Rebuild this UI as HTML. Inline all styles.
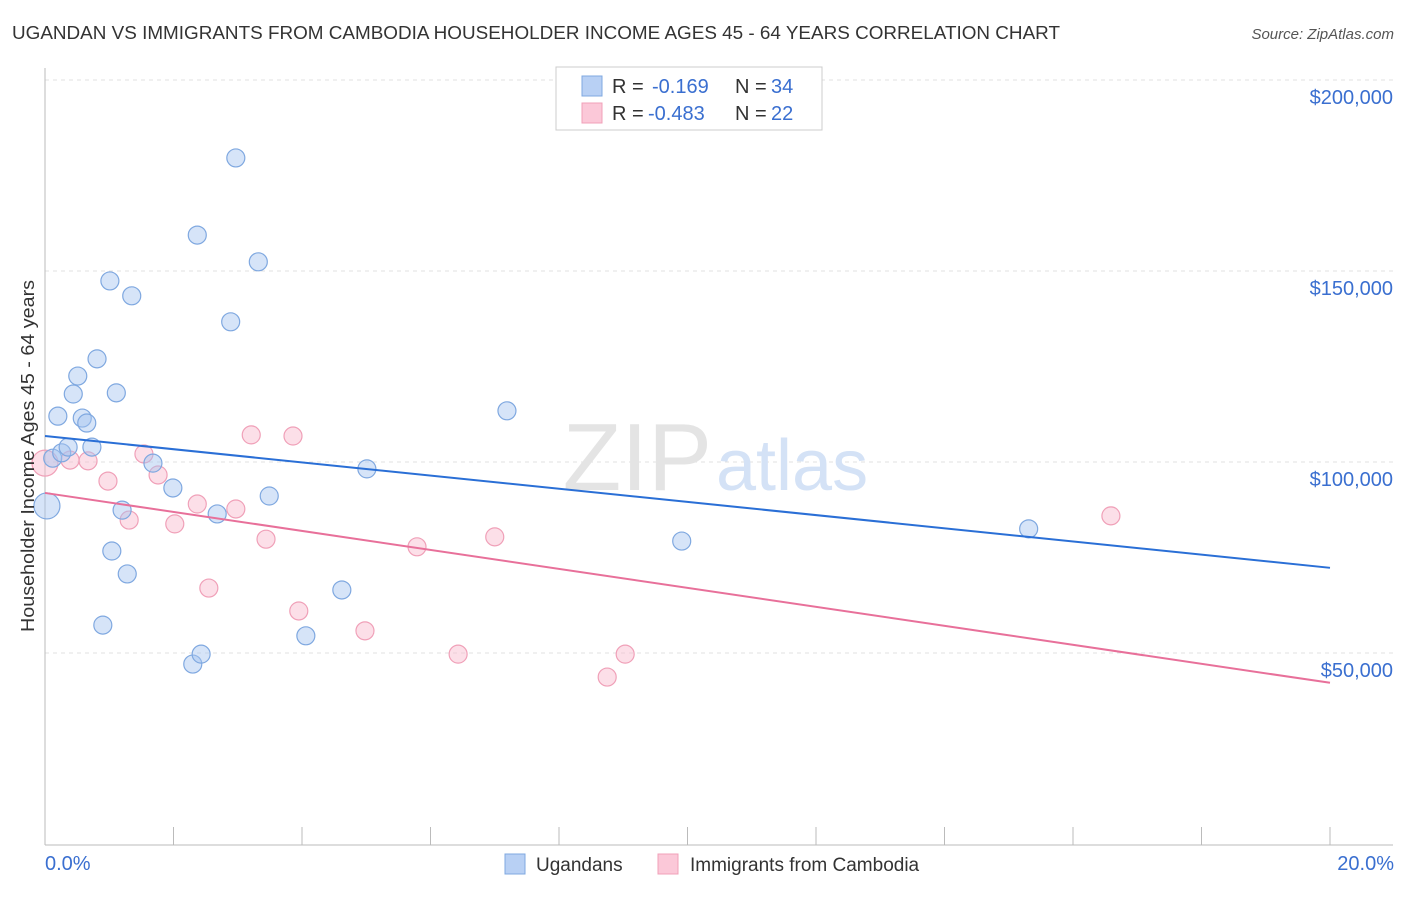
<!DOCTYPE html>
<html><head><meta charset="utf-8"><style>
body{margin:0;background:#fff;font-family:"Liberation Sans",sans-serif;}
svg text{font-family:"Liberation Sans",sans-serif;}
</style></head><body>
<svg width="1406" height="892" viewBox="0 0 1406 892">
<text x="12" y="39" font-size="18" fill="#333" textLength="1048" lengthAdjust="spacingAndGlyphs">UGANDAN VS IMMIGRANTS FROM CAMBODIA HOUSEHOLDER INCOME AGES 45 - 64 YEARS CORRELATION CHART</text>
<text x="1394" y="39" font-size="15" fill="#555" text-anchor="end" font-style="italic">Source: ZipAtlas.com</text>
<g id="grid"></g>
<text x="712" y="490" font-size="96" fill="#e4e4e4" text-anchor="end" font-family="Liberation Serif">ZIP</text>
<text x="716" y="490" font-size="72" fill="#d4e2f6">atlas</text>
<g id="marks"></g>
<text transform="translate(34,456) rotate(-90)" font-size="18" fill="#333" text-anchor="middle" textLength="352" lengthAdjust="spacingAndGlyphs">Householder Income Ages 45 - 64 years</text>
<text x="45" y="870" font-size="20" fill="#3a6fd0">0.0%</text>
<text x="1394" y="870" font-size="20" fill="#3a6fd0" text-anchor="end">20.0%</text>
<g>
<rect x="556" y="67" width="266" height="63" fill="#fff" stroke="#ccc"/>
<rect x="582" y="76" width="20" height="20" fill="#b8d0f4" stroke="#7fa8e0"/>
<rect x="582" y="103" width="20" height="20" fill="#fbc8d8" stroke="#f0a0b8"/>
<text x="612" y="93" font-size="20" fill="#333">R =</text>
<text x="652" y="93" font-size="20" fill="#3a6fd0">-0.169</text>
<text x="735" y="93" font-size="20" fill="#333">N =</text>
<text x="771" y="93" font-size="20" fill="#3a6fd0">34</text>
<text x="612" y="120" font-size="20" fill="#333">R =</text>
<text x="648" y="120" font-size="20" fill="#3a6fd0">-0.483</text>
<text x="735" y="120" font-size="20" fill="#333">N =</text>
<text x="771" y="120" font-size="20" fill="#3a6fd0">22</text>
</g>
<g>
<rect x="505" y="854" width="20" height="20" fill="#b8d0f4" stroke="#7fa8e0"/>
<text x="536" y="871" font-size="19" fill="#333">Ugandans</text>
<rect x="658" y="854" width="20" height="20" fill="#fbc8d8" stroke="#f0a0b8"/>
<text x="690" y="871" font-size="19" fill="#333">Immigrants from Cambodia</text>
</g>
</svg>
<script>
const blueX=[0.03,0.12,0.2,0.26,0.36,0.44,0.51,0.58,0.65,0.73,0.81,0.9,1.01,1.04,1.11,1.2,1.28,1.35,1.68,1.99,2.3,2.37,2.43,2.68,2.89,2.97,3.32,3.49,4.06,4.62,5.01,7.19,9.91,15.31];
const blueY=[88.5,101.0,112.0,102.4,103.9,117.8,122.5,111.5,110.2,103.9,127.0,57.3,147.4,76.7,118.1,87.4,70.7,143.5,99.7,93.2,47.1,159.4,49.7,86.4,136.7,179.6,152.4,91.1,54.5,66.5,98.2,113.4,79.3,82.5];
const pinkX=[0,0.39,0.67,0.98,1.31,1.54,1.76,2.02,2.37,2.55,2.97,3.21,3.44,3.86,3.95,4.98,5.79,6.43,7.0,8.75,9.03,16.59];
const pinkY=[99.7,100.5,100.3,95.0,84.8,102.1,96.6,83.8,89.0,67.0,87.7,107.1,79.8,106.8,61.0,55.8,77.8,49.7,80.4,43.7,49.7,85.9];
const blueTrend=[106.8,72.3];
const pinkTrend=[91.9,42.2];
const yTicks=[50,100,150,200];
const yTickLabels=["$50,000","$100,000","$150,000","$200,000"];
const xTicks=[0,2,4,6,8,10,12,14,16,18,20];
const NS="http://www.w3.org/2000/svg";
const X=v=>45+v*1285/20, Y=v=>844-v*191/50;
const grid=document.getElementById('grid'), marks=document.getElementById('marks');
function mk(tag,attrs,parent){const e=document.createElementNS(NS,tag);for(const k in attrs)e.setAttribute(k,attrs[k]);parent.appendChild(e);return e;}
yTicks.forEach((t,i)=>{
 const l=mk('line',{x1:45,x2:1393,y1:Y(t),y2:Y(t),stroke:'#e2e2e2','stroke-dasharray':'4,4'},grid);
 
 
 const tx=mk('text',{x:1393,y:Y(t)+24,'font-size':20,fill:'#3a6fd0','text-anchor':'end'},grid);
 tx.textContent=yTickLabels[i];
 
 
});
const ax=mk('line',{x1:45,x2:1393,y1:845,y2:845,stroke:'#bbb'},grid);


const ay=mk('line',{x1:45,x2:45,y1:68,y2:845,stroke:'#bbb'},grid);


xTicks.forEach(t=>{
 const l=mk('line',{x1:X(t),x2:X(t),y1:827,y2:845,stroke:'#bbb'},grid);
 
 
});
function pts(xs,ys,fill,stroke,name){
 xs.forEach((x,i)=>{
  const r=(x<0.05)?13:9;
  const c=mk('circle',{cx:X(x),cy:Y(ys[i]),r:r,fill:fill,stroke:stroke,'stroke-width':1.2},marks);
  
  
 });
}
pts(pinkX,pinkY,'rgba(248,185,205,0.45)','#f0a0b8','cambodia-point');
pts(blueX,blueY,'rgba(165,195,240,0.45)','#7fa8e0','ugandan-point');
const bl=mk('line',{x1:X(0),y1:Y(blueTrend[0]),x2:X(20),y2:Y(blueTrend[1]),stroke:'#2a6fd6','stroke-width':2},marks);


const pl=mk('line',{x1:X(0),y1:Y(pinkTrend[0]),x2:X(20),y2:Y(pinkTrend[1]),stroke:'#e8709a','stroke-width':2},marks);


</script>
</body></html>
